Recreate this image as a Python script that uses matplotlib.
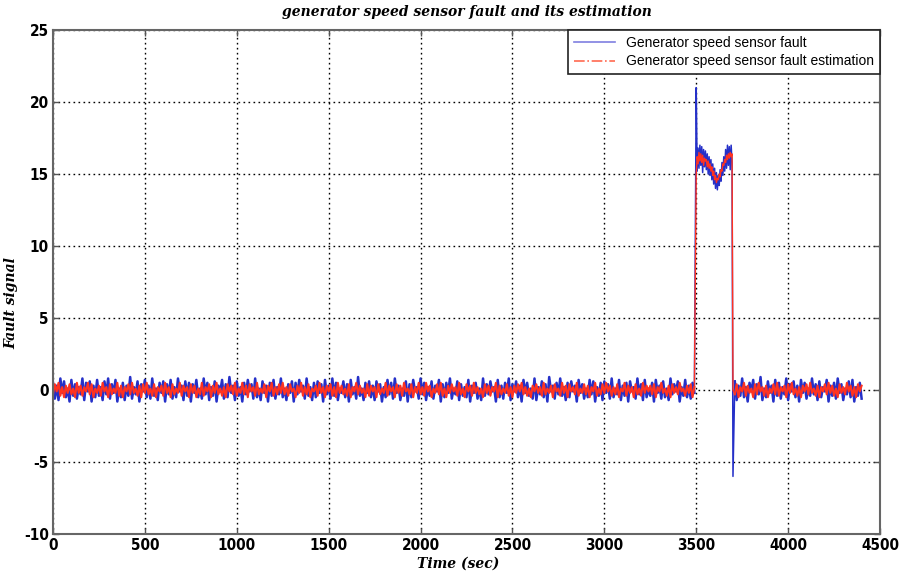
import numpy as np
import matplotlib
matplotlib.use("Agg")
import matplotlib.pyplot as plt
from matplotlib.lines import Line2D

# ---- data ----
# normal operation, 0 .. 3490 s, one sample every 10 s
fault_base1 = [
    0.5, -0.6, 0.3, -0.7, 0.8, -0.2, 0.6, -0.5, 0.1, -0.8, 0.7, -0.4, 0.4, -0.6, 0.2, -0.3, 0.8, -0.7, 0.5, -0.1, 0.6, -0.8, 0.3, -0.5, 0.7,
    -0.4, 0.2, -0.7, 0.6, -0.3, 0.8, -0.6, 0.4, -0.2, 0.7, -0.8, 0.1, -0.5, 0.5, -0.7, 0.3, -0.4, 0.9, -0.6, 0.2, -0.3, 0.6, -0.8, 0.4, -0.1,
    0.7, -0.5, 0.3, -0.6, 0.8, -0.4, 0.1, -0.7, 0.5, -0.2, 0.6, -0.8, 0.4, -0.3, 0.7, -0.6, 0.2, -0.5, 0.8, -0.1, 0.3, -0.7, 0.6, -0.4, 0.5,
    -0.8, 0.4, -0.2, 0.7, -0.5, 0.1, -0.6, 0.8, -0.3, 0.5, -0.7, 0.2, -0.4, 0.6, -0.8, 0.3, -0.1, 0.7, -0.6, 0.4, -0.5, 0.9, -0.2, 0.3, -0.7,
    0.6, -0.4, 0.2, -0.8, 0.5, -0.3, 0.7, -0.1, 0.4, -0.6, 0.8, -0.5, 0.1, -0.7, 0.6, -0.2, 0.3, -0.8, 0.5, -0.4, 0.7, -0.6, 0.2, -0.3, 0.8,
    -0.5, 0.1, -0.7, 0.4, -0.2, 0.6, -0.8, 0.5, -0.3, 0.7, -0.1, 0.3, -0.6, 0.8, -0.4, 0.2, -0.7, 0.5, -0.5, 0.6, -0.2, 0.4, -0.8, 0.7, -0.3,
    0.3, -0.6, 0.8, -0.4, 0.5, -0.7, 0.1, -0.2, 0.6, -0.5, 0.4, -0.8, 0.7, -0.3, 0.2, -0.6, 0.9, -0.4, 0.1, -0.7, 0.5, -0.2, 0.6, -0.5, 0.3,
    -0.7, 0.6, -0.1, 0.4, -0.8, 0.2, -0.5, 0.7, -0.3, 0.5, -0.6, 0.8, -0.2, 0.3, -0.7, 0.1, -0.4, 0.6, -0.8, 0.4, -0.5, 0.7, -0.1, 0.2, -0.6,
    0.8, -0.3, 0.5, -0.7, 0.2, -0.4, 0.6, -0.6, 0.3, -0.1, 0.7, -0.8, 0.4, -0.5, 0.5, -0.2, 0.8, -0.6, 0.1, -0.3, 0.6, -0.7, 0.4, -0.4, 0.2,
    -0.5, 0.7, -0.8, 0.3, -0.2, 0.5, -0.6, 0.1, -0.7, 0.8, -0.4, 0.4, -0.3, 0.6, -0.1, 0.2, -0.8, 0.7, -0.5, 0.3, -0.6, 0.5, -0.2, 0.8, -0.7,
    0.4, -0.1, 0.6, -0.5, 0.3, -0.8, 0.7, -0.2, 0.5, -0.4, 0.1, -0.6, 0.8, -0.7, 0.2, -0.3, 0.6, -0.5, 0.4, -0.8, 0.9, -0.1, 0.3, -0.6, 0.5,
    -0.3, 0.8, -0.4, 0.2, -0.7, 0.5, -0.5, 0.6, -0.1, 0.3, -0.8, 0.7, -0.2, 0.4, -0.6, 0.1, -0.5, 0.7, -0.3, 0.6, -0.8, 0.2, -0.4, 0.5, -0.7,
    0.6, -0.2, 0.4, -0.6, 0.8, -0.5, 0.1, -0.3, 0.7, -0.7, 0.3, -0.4, 0.5, -0.8, 0.6, -0.1, 0.2, -0.6, 0.8, -0.3, 0.4, -0.7, 0.7, -0.5, 0.1,
    -0.4, 0.5, -0.8, 0.7, -0.2, 0.3, -0.6, 0.6, -0.5, 0.1, -0.7, 0.8, -0.3, 0.4, -0.1, 0.6, -0.8, 0.2, -0.4, 0.7, -0.5, 0.3, -0.6, 0.5, -0.2,
]
est_base1 = [
    -0.3, 0.4, -0.1, 0.5, -0.4, 0.2, -0.5, 0.3, -0.2, 0.4, -0.3, 0.1, -0.5, 0.5, -0.2, 0.3, -0.4, 0.2, -0.1, 0.5, -0.3, 0.4, -0.5, 0.1, -0.2,
    0.3, -0.4, 0.5, -0.1, 0.2, -0.5, 0.4, -0.3, 0.1, -0.2, 0.5, -0.4, 0.3, -0.5, 0.2, -0.1, 0.4, -0.3, 0.5, -0.2, 0.1, -0.4, 0.3, -0.5, 0.4,
    -0.2, 0.5, -0.3, 0.1, -0.4, 0.4, -0.5, 0.2, -0.1, 0.3, -0.4, 0.5, -0.2, 0.2, -0.5, 0.4, -0.3, 0.1, -0.2, 0.5, -0.4, 0.3, -0.1, 0.2, -0.5,
    0.4, -0.2, 0.3, -0.5, 0.1, -0.3, 0.5, -0.4, 0.2, -0.1, 0.4, -0.5, 0.3, -0.2, 0.5, -0.3, 0.1, -0.4, 0.2, -0.5, 0.4, -0.1, 0.3, -0.3, 0.5,
    -0.4, 0.1, -0.2, 0.5, -0.3, 0.3, -0.5, 0.4, -0.1, 0.2, -0.4, 0.5, -0.3, 0.1, -0.2, 0.4, -0.5, 0.3, -0.1, 0.5, -0.4, 0.2, -0.3, 0.4, -0.2,
    0.5, -0.3, 0.2, -0.4, 0.4, -0.1, 0.1, -0.5, 0.3, -0.2, 0.5, -0.4, 0.2, -0.3, 0.4, -0.5, 0.1, -0.1, 0.3, -0.4, 0.5, -0.2, 0.2, -0.5, 0.3,
    -0.1, 0.4, -0.4, 0.2, -0.5, 0.5, -0.2, 0.3, -0.3, 0.1, -0.4, 0.4, -0.5, 0.2, -0.1, 0.5, -0.3, 0.3, -0.2, 0.1, -0.5, 0.4, -0.4, 0.3, -0.1,
    0.2, -0.5, 0.4, -0.3, 0.1, -0.2, 0.5, -0.4, 0.3, -0.1, 0.2, -0.5, 0.4, -0.2, 0.3, -0.4, 0.5, -0.1, 0.1, -0.3, 0.4, -0.5, 0.2, -0.2, 0.5,
    -0.3, 0.2, -0.4, 0.5, -0.1, 0.3, -0.5, 0.1, -0.2, 0.4, -0.3, 0.5, -0.4, 0.1, -0.5, 0.3, -0.2, 0.4, -0.1, 0.2, -0.4, 0.5, -0.3, 0.1, -0.5,
    0.4, -0.1, 0.3, -0.4, 0.5, -0.2, 0.2, -0.3, 0.1, -0.5, 0.4, -0.2, 0.3, -0.4, 0.2, -0.1, 0.5, -0.5, 0.3, -0.3, 0.1, -0.2, 0.4, -0.4, 0.2,
    -0.5, 0.3, -0.2, 0.4, -0.1, 0.5, -0.3, 0.2, -0.4, 0.1, -0.5, 0.3, -0.1, 0.4, -0.2, 0.2, -0.4, 0.5, -0.3, 0.1, -0.2, 0.3, -0.5, 0.4, -0.1,
    0.1, -0.4, 0.5, -0.2, 0.3, -0.5, 0.4, -0.1, 0.2, -0.3, 0.5, -0.4, 0.1, -0.2, 0.4, -0.3, 0.3, -0.5, 0.2, -0.1, 0.5, -0.4, 0.1, -0.3, 0.4,
    -0.2, 0.5, -0.1, 0.3, -0.4, 0.2, -0.3, 0.4, -0.5, 0.1, -0.1, 0.5, -0.4, 0.3, -0.2, 0.2, -0.5, 0.4, -0.3, 0.1, -0.4, 0.5, -0.2, 0.3, -0.1,
    0.3, -0.3, 0.4, -0.5, 0.2, -0.1, 0.5, -0.2, 0.1, -0.4, 0.3, -0.5, 0.4, -0.2, 0.2, -0.3, 0.5, -0.1, 0.1, -0.4, 0.3, -0.2, 0.4, -0.5, 0.2,
]

# fault active, 3500 .. 3695 s, one sample every 5 s, then the drop at 3700 s
fault_on = [
    21.0, 15.2, 16.8, 15.4, 17.0, 15.6, 16.9, 15.1, 16.7, 15.5,
    16.6, 15.3, 16.4, 15.0, 16.2, 14.9, 16.0, 14.6, 15.7, 14.3,
    15.4, 14.0, 15.1, 13.9, 14.9, 14.2, 15.3, 14.5, 15.8, 14.9,
    16.2, 15.2, 16.7, 15.4, 17.0, 15.6, 16.9, 15.3, 17.0, 15.8,
    -6.0,
]
est_on = [
    15.0, 16.2, 15.7, 16.5, 15.9, 16.4, 15.8, 16.3, 15.6, 16.1,
    15.9, 16.0, 15.5, 15.9, 15.4, 15.7, 15.2, 15.5, 14.9, 15.2,
    14.6, 14.9, 14.4, 14.7, 14.6, 15.0, 14.8, 15.3, 15.2, 15.7,
    15.6, 16.0, 15.8, 16.3, 16.0, 16.4, 16.1, 16.5, 16.2, 16.4,
    0.0,
]

# back to normal, 3710 .. 4400 s, one sample every 10 s
fault_base2 = [
    0.6, -0.7, 0.3, -0.4, 0.8, -0.5, 0.2, -0.8, 0.5, -0.1, 0.7, -0.6, 0.4, -0.3, 0.9, -0.7, 0.1, -0.5, 0.6, -0.2, 0.3, -0.8, 0.7, -0.4, 0.5,
    -0.6, 0.2, -0.3, 0.8, -0.7, 0.4, -0.1, 0.6, -0.5, 0.3, -0.8, 0.7, -0.2, 0.5, -0.6, 0.1, -0.4, 0.8, -0.3, 0.4, -0.7, 0.6, -0.5, 0.2, -0.1,
    0.7, -0.8, 0.3, -0.4, 0.5, -0.6, 0.8, -0.2, 0.4, -0.7, 0.1, -0.3, 0.6, -0.5, 0.7, -0.8, 0.2, -0.4, 0.5, -0.6,
]
est_base2 = [
    -0.3, 0.4, -0.5, 0.2, -0.1, 0.5, -0.4, 0.3, -0.2, 0.1, -0.5, 0.4, -0.3, 0.5, -0.1, 0.2, -0.4, 0.3, -0.5, 0.1, -0.2, 0.4, -0.3, 0.5, -0.4,
    0.2, -0.1, 0.3, -0.5, 0.4, -0.2, 0.5, -0.3, 0.1, -0.4, 0.2, -0.5, 0.3, -0.1, 0.4, -0.3, 0.5, -0.2, 0.1, -0.4, 0.3, -0.5, 0.2, -0.1, 0.4,
    -0.3, 0.5, -0.2, 0.3, -0.4, 0.1, -0.5, 0.4, -0.2, 0.2, -0.3, 0.5, -0.1, 0.3, -0.4, 0.2, -0.5, 0.4, -0.1, 0.3,
]

x_ticks = [0, 500, 1000, 1500, 2000, 2500, 3000, 3500, 4000, 4500]
y_ticks = [-10, -5, 0, 5, 10, 15, 20, 25]
labels = ['Generator speed sensor fault', 'Generator speed sensor fault estimation']

# sample times
t1 = 10 * np.arange(len(fault_base1))
t_on = 3500 + 5 * np.arange(len(fault_on))
t2 = 3710 + 10 * np.arange(len(fault_base2))

blue = '#2530c8'
red = '#ff3320'

fig = plt.figure(figsize=(8.99, 5.76), dpi=100)
ax = fig.add_axes([53 / 899, 1 - 534 / 576, 827 / 899, 504 / 576])

# fault signal: noisy baseline drawn heavier, the fault window and its jumps thinner
ax.plot(t1, fault_base1, color=blue, lw=1.8)
ax.plot(t2, fault_base2, color=blue, lw=1.8)
ax.plot(np.r_[t1[-1], t_on, t2[0]], np.r_[fault_base1[-1], fault_on, fault_base2[0]], color=blue, lw=1.1)

# estimation on top
ax.plot(t1, est_base1, color=red, lw=1.5)
ax.plot(t2, est_base2, color=red, lw=1.5)
ax.plot(np.r_[t1[-1], t_on, t2[0]], np.r_[est_base1[-1], est_on, est_base2[0]], color=red, lw=1.0)

ax.set_xlim(0, 4500)
ax.set_ylim(-10, 25)
ax.set_xticks(x_ticks)
ax.set_yticks(y_ticks)
ax.grid(True, color='black', ls=(0, (1.2, 2.4)), lw=1.0)

tick_font = dict(family='DejaVu Sans', stretch='condensed', weight='bold', size=11)
ax.set_xticklabels([str(v) for v in x_ticks], **tick_font)
ax.set_yticklabels([str(v) for v in y_ticks], **tick_font)
ax.tick_params(direction='in', length=4, width=1, color='#555555', top=True, right=True, pad=3)
for s in ax.spines.values():
    s.set_color('#666666')
    s.set_linewidth(1.5)

label_font = dict(family=['DejaVu Serif'], weight='bold', style='italic', size=10)
ax.set_title('generator speed sensor fault and its estimation', pad=10, **label_font)
ax.set_xlabel('Time (sec)', **label_font)
ax.set_ylabel('Fault signal', **label_font)
ax.xaxis.set_label_coords(0.49, -0.045)
ax.yaxis.set_label_coords(-0.042, 0.458)

# legend handles in the plotted colours and styles
handles = [Line2D([], [], color='#7f7fe0', lw=1.2),
           Line2D([], [], color='#ff6a50', lw=1.2, ls='-.')]
leg = ax.legend(handles, labels, loc='upper right', borderaxespad=0, fancybox=False, framealpha=1,
                edgecolor='#222222', handlelength=3.0, borderpad=0.4, labelspacing=0.35,
                prop=dict(family=['Liberation Sans', 'DejaVu Sans'], size=10))
leg.get_frame().set_linewidth(1.2)

fig.savefig('out.png', dpi=100)
